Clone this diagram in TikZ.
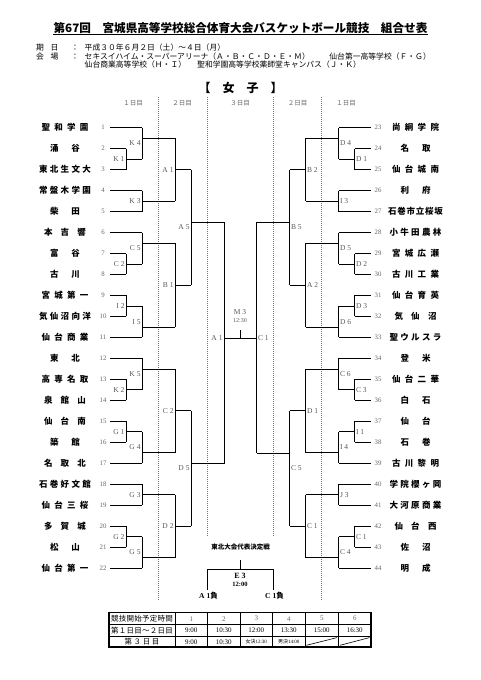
\documentclass[tikz,border=0pt]{standalone}
\usepackage{fontspec}
\setmainfont{Liberation Serif}
\newfontfamily\jp{Noto Sans CJK JP}
\usetikzlibrary{calc}
\newcommand\fsz[1]{\fontsize{#1}{#1}\selectfont}
\newcommand\ntwo[2]{\makebox[30pt][s]{#1\hfill#2}}
\newcommand\nthree[3]{\makebox[42pt][s]{#1\hfill#2\hfill#3}}
\newcommand\nfour[4]{\makebox[47pt][s]{#1\hfill#2\hfill#3\hfill#4}}
\newcommand\nfive[5]{\makebox[52pt][s]{#1\hfill#2\hfill#3\hfill#4\hfill#5}}
\newcommand\nsix[6]{\makebox[55pt][s]{#1\hfill#2\hfill#3\hfill#4\hfill#5\hfill#6}}
\newcommand\ML[7]{%
  \draw[br] (#2,#3) -- (#2,#4) (#2,#5) -- (#6,#5);
  \node[lab,anchor=east] (#1) at ({#2-1.3},{(#3+#4)/2}) {#7};}
\newcommand\MR[7]{%
  \draw[br] (#2,#3) -- (#2,#4) (#2,#5) -- (#6,#5);
  \node[lab,anchor=west] (#1) at ({#2+1.3},{(#3+#4)/2}) {#7};}
\begin{document}
\begin{tikzpicture}[x=1pt,y=-1pt,
  br/.style={line width=0.8pt,black},
  dl/.style={black!55,line width=0.45pt,dash pattern=on 1pt off 1pt},
  team/.style={font=\jp\bfseries\fsz{8.5},inner sep=0},
  num/.style={font=\fsz{6.8},text=black!60,inner sep=0},
  lab/.style={font=\fsz{7.5},text=black!65,inner sep=0},
  hd/.style={font=\jp\fsz{7.8},inner sep=0},
  col/.style={font=\jp\fsz{6.5},text=black!60,inner sep=0},
  tb/.style={font=\fsz{7},inner sep=0}]
\useasboundingbox (0,0) rectangle (481,680);
\fill[white] (0,0) rectangle (481,680);
% title
\node[font=\jp\bfseries\fsz{11.6},inner sep=0] (title) at (240.5,28) {第67回　宮城県高等学校総合体育大会バスケットボール競技　組合せ表};
\draw[line width=0.7pt] ($(title.south west)+(0,0.5)$) -- ($(title.south east)+(0,0.5)$);
% header info
\node[hd] (h1a) at (40,47.8) {期};
\node[hd] (h1b) at (54.5,47.8) {日};
\node[hd] (h1c) at (75,47.8) {：};
\node[hd,anchor=west] (h1d) at (84.5,47.8) {平成３０年６月２日（土）～４日（月）};
\node[hd] (h2a) at (40,56.3) {会};
\node[hd] (h2b) at (54.5,56.3) {場};
\node[hd] (h2c) at (75,56.3) {：};
\node[hd,anchor=west] (h2d) at (84.5,56.3) {セキスイハイム・スーパーアリーナ（Ａ・Ｂ・Ｃ・Ｄ・Ｅ・Ｍ）};
\node[hd,anchor=east] (h2e) at (431,56.3) {仙台第一高等学校（Ｆ・Ｇ）};
\node[hd,anchor=west] (h3a) at (84.5,65) {仙台商業高等学校（Ｈ・Ｉ）};
\node[hd,anchor=west] (h3b) at (197,65) {聖和学園高等学校薬師堂キャンパス（Ｊ・Ｋ）};
\node[font=\jp\bfseries\fsz{12},inner sep=0] (sex) at (240.5,88) {【　女　子　】};
% column headers
\node[col] (c1) at (133,103) {１日目};
\node[col] (c2) at (182,103) {２日目};
\node[col] (c3) at (240,103) {３日目};
\node[col] (c4) at (297.5,103) {２日目};
\node[col] (c5) at (346,103) {１日目};
\draw[dl] (158,97) -- (158,600) (321.5,97) -- (321.5,600);
\draw[dl] (207,97) -- (207,537) (273,97) -- (273,537);
% left teams
\foreach \i/\nm/\len in {1/{\nfour 聖和学園}/32, 2/{\ntwo 涌谷}/16, 3/{\nfive 東北生文大}/16, 4/{\nfive 常盤木学園}/32, 5/{\ntwo 柴田}/32, 6/{\nthree 本吉響}/32, 7/{\ntwo 富谷}/16, 8/{\ntwo 古川}/16, 9/{\nfour 宮城第一}/16, 10/{\nfive 気仙沼向洋}/16, 11/{\nfour 仙台商業}/32, 12/{\ntwo 東北}/32, 13/{\nfour 高専名取}/16, 14/{\nthree 泉館山}/16, 15/{\nthree 仙台南}/16, 16/{\ntwo 築館}/16, 17/{\nthree 名取北}/32, 18/{\nfive 石巻好文館}/32, 19/{\nfour 仙台三桜}/32, 20/{\nthree 多賀城}/16, 21/{\ntwo 松山}/16, 22/{\nfour 仙台第一}/32}{
  \pgfmathsetmacro\yy{127.7+(\i-1)*20.97}
  \node[team] (tn\i) at (65,\yy) {\nm};
  \node[num] (no\i) at (103,\yy) {\i};
  \coordinate (te\i) at (110,\yy);
  \draw[br] (te\i) -- ++(\len,0);
}
% right teams
\foreach \i/\nm/\len in {23/{\nfour 尚絅学院}/32, 24/{\ntwo 名取}/16, 25/{\nfour 仙台城南}/16, 26/{\ntwo 利府}/32, 27/{\nsix 石巻市立桜坂}/32, 28/{\nfive 小牛田農林}/32, 29/{\nfour 宮城広瀬}/16, 30/{\nfour 古川工業}/16, 31/{\nfour 仙台育英}/16, 32/{\nthree 気仙沼}/16, 33/{\nfive 聖ウルスラ}/32, 34/{\ntwo 登米}/32, 35/{\nfour 仙台二華}/16, 36/{\ntwo 白石}/16, 37/{\ntwo 仙台}/16, 38/{\ntwo 石巻}/16, 39/{\nfour 古川黎明}/32, 40/{\nfive 学院櫻ヶ岡}/32, 41/{\nfive 大河原商業}/32, 42/{\nthree 仙台西}/16, 43/{\ntwo 佐沼}/16, 44/{\ntwo 明成}/32}{
  \pgfmathsetmacro\yy{127.7+(\i-23)*20.97}
  \node[team] (tn\i) at (415.5,\yy) {\nm};
  \node[num] (no\i) at (378,\yy) {\i};
  \coordinate (te\i) at (370.5,\yy);
  \draw[br] (te\i) -- ++(-\len,0);
}
% left bracket
\ML{lK1}{126}{148.67}{169.64}{159.15}{142}{K 1}
\ML{lC2a}{126}{253.52}{274.49}{264.0}{142}{C 2}
\ML{lI2}{126}{295.46}{316.43}{305.95}{142}{I 2}
\ML{lK2}{126}{379.34}{400.31}{389.83}{142}{K 2}
\ML{lG1}{126}{421.28}{442.25}{431.77}{142}{G 1}
\ML{lG2}{126}{526.13}{547.1}{536.6}{142}{G 2}
\ML{lK4}{142}{127.7}{159.15}{138.2}{175}{K 4}
\ML{lK3}{142}{190.61}{211.58}{201.1}{175}{K 3}
\ML{lC5}{142}{232.55}{264.0}{243.0}{175}{C 5}
\ML{lI5}{142}{305.95}{337.4}{326.9}{175}{I 5}
\ML{lK5}{142}{358.37}{389.83}{368.9}{175}{K 5}
\ML{lG4}{142}{431.77}{463.22}{452.7}{175}{G 4}
\ML{lG3}{142}{484.19}{505.16}{494.7}{175}{G 3}
\ML{lG5}{142}{536.6}{568.07}{557.6}{175}{G 5}
\ML{lA1}{175}{138.2}{201.1}{169.65}{191}{A 1}
\ML{lB1}{175}{243.0}{326.9}{285.0}{191}{B 1}
\ML{lC2}{175}{368.9}{452.7}{410.8}{191}{C 2}
\ML{lD2}{175}{494.7}{557.6}{526.1}{191}{D 2}
\ML{lA5}{191}{169.65}{285.0}{222.2}{224}{A 5}
\ML{lD5}{191}{410.8}{526.1}{463.5}{224}{D 5}
% right bracket
\MR{rD1a}{354.5}{148.67}{169.64}{159.15}{338.5}{D 1}
\MR{rD2}{354.5}{253.52}{274.49}{264.0}{338.5}{D 2}
\MR{rD3}{354.5}{295.46}{316.43}{305.95}{338.5}{D 3}
\MR{rC3}{354.5}{379.34}{400.31}{389.83}{338.5}{C 3}
\MR{rI1}{354.5}{421.28}{442.25}{431.77}{338.5}{I 1}
\MR{rC1a}{354.5}{526.13}{547.1}{536.6}{338.5}{C 1}
\MR{rD4}{338.5}{127.7}{159.15}{138.2}{305.5}{D 4}
\MR{rI3}{338.5}{190.61}{211.58}{201.1}{305.5}{I 3}
\MR{rD5}{338.5}{232.55}{264.0}{243.0}{305.5}{D 5}
\MR{rD6}{338.5}{305.95}{337.4}{326.9}{305.5}{D 6}
\MR{rC6}{338.5}{358.37}{389.83}{368.9}{305.5}{C 6}
\MR{rI4}{338.5}{431.77}{463.22}{452.7}{305.5}{I 4}
\MR{rJ3}{338.5}{484.19}{505.16}{494.7}{305.5}{J 3}
\MR{rC4}{338.5}{536.6}{568.07}{557.6}{305.5}{C 4}
\MR{rB2}{305.5}{138.2}{201.1}{169.65}{289.5}{B 2}
\MR{rA2}{305.5}{243.0}{326.9}{285.0}{289.5}{A 2}
\MR{rD1}{305.5}{368.9}{452.7}{410.8}{289.5}{D 1}
\MR{rC1b}{305.5}{494.7}{557.6}{526.1}{289.5}{C 1}
\MR{rB5}{289.5}{169.65}{285.0}{222.2}{256.5}{B 5}
\MR{rC5}{289.5}{410.8}{526.1}{453.3}{256.5}{C 5}
% finals
\draw[br] (224,222.2) -- (224,463.5);
\draw[br] (256.5,222.2) -- (256.5,453.3);
\coordinate (fl) at (224,338);
\coordinate (fr) at (256.5,338);
\coordinate (ft) at (240,330);
\draw[br] (fl) -- (fr);
\draw[br] (ft) -- (ft |- fl);
\node[lab,anchor=east] (fA1) at (222.7,338) {A 1};
\node[lab,anchor=west] (fC1) at (257.8,338) {C 1};
\node[lab] (m3) at (240,311.7) {M 3};
\node[lab,font=\fsz{6}] (m3t) at (240,320.7) {12:30};
% E3
\node[font=\jp\bfseries\fsz{6.5},inner sep=0] (tohoku) at (240.5,547) {東北大会代表決定戦};
\coordinate (et) at (240,560);
\coordinate (el) at (207,569.5);
\coordinate (er) at (273,569.5);
\draw[br] (et) -- (et |- el);
\draw[br] ($(el)+(0,20.5)$) -- (el) -- (er) -- ($(er)+(0,20.5)$);
\node[font=\bfseries\fsz{8},inner sep=0] (e3) at (240,576) {E 3};
\node[font=\bfseries\fsz{6.5},inner sep=0] (e3t) at (240,584.2) {12:00};
\node[font=\bfseries\fsz{7.5},inner sep=0] (a1l) at (208.5,595.5) {A 1{\jp 負}};
\node[font=\bfseries\fsz{7.5},inner sep=0] (c1l) at (274.5,595.5) {C 1{\jp 負}};
% table
\draw[line width=1.1pt] (109,612.5) rectangle (371,647);
\draw[line width=0.5pt] (109,624.5) -- (371,624.5) (109,636) -- (371,636);
\draw[line width=0.8pt] (175,612.5) -- (175,647);
\foreach \x in {207.5,240,272.5,305,338.5} \draw[line width=0.5pt] (\x,612.5) -- (\x,647);
\node[font=\jp\fsz{7.5},inner sep=0] (r1h) at (142,618.5) {\makebox[62pt][s]{競\hfill 技\hfill 開\hfill 始\hfill 予\hfill 定\hfill 時\hfill 間}};
\node[font=\jp\fsz{7.5},inner sep=0] (r2h) at (142,630.3) {\makebox[62pt][s]{第\hfill １\hfill 日\hfill 目\hfill ～\hfill ２\hfill 日\hfill 目}};
\node[font=\jp\fsz{7.5},inner sep=0] (r3h) at (142,641.6) {\makebox[35pt][s]{第\hfill ３\hfill 日\hfill 目}};
\foreach \c/\x in {1/191.25,2/223.75,3/256.25,4/288.75,5/321.75,6/354.75}
  \node[tb,text=black!60] (th\c) at (\x,618.7) {\c};
\foreach \c/\t/\x in {1/9:00/191.25,2/10:30/223.75,3/12:00/256.25,4/13:30/288.75,5/15:00/321.75,6/16:30/354.75}
  \node[tb] (tr\c) at (\x,630.5) {\t};
\node[tb] (ts1) at (191.25,641.8) {9:00};
\node[tb] (ts2) at (223.75,641.8) {10:30};
\node[tb,font=\fsz{5}] (ts3) at (256.25,641.8) {{\jp 女決}12:30};
\node[tb,font=\fsz{5}] (ts4) at (288.75,641.8) {{\jp 男決}14:00};
\draw[line width=0.6pt] (306.5,645.3) -- (337,637.6);
\draw[line width=0.6pt] (340,645.3) -- (369.5,637.6);
\end{tikzpicture}
\end{document}
